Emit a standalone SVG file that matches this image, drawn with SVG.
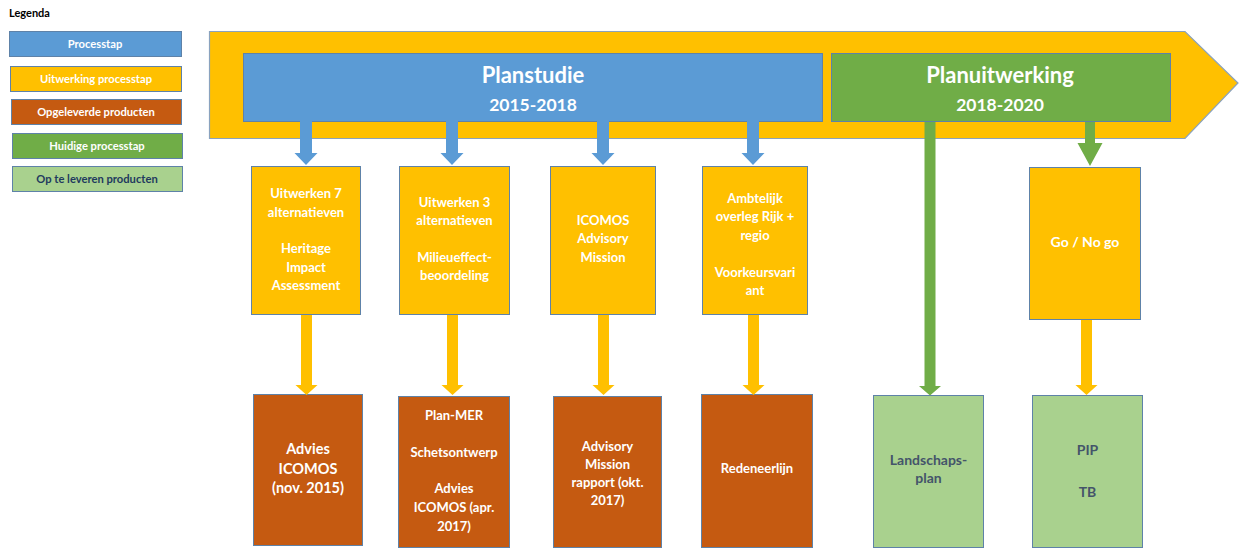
<svg xmlns="http://www.w3.org/2000/svg" width="1239" height="549" viewBox="0 0 1239 549">
<style>
text{font-family:Lato,"Liberation Sans",sans-serif;font-weight:bold;text-anchor:middle}
.b{stroke:#5E82A8;stroke-width:1}
.blue{fill:#5B9BD5}
.yel{fill:#FFC000}
.ora{fill:#C55A11}
.grn{fill:#70AD47}
.lg{fill:#A9D18E}
.w{fill:#FFFFFF}
.d{fill:#44546A}
.t12{font-size:13px}
.t13{font-size:14px}
.leg{font-size:11.2px}
</style>
<rect width="1239" height="549" fill="#FFFFFF"/>
<g id="legend">
<text x="9" y="17" style="text-anchor:start;font-size:11px" fill="#000">Legenda</text>
<rect class="blue b" x="9.5" y="31.5" width="172" height="25"/>
<text class="w leg" x="95" y="48">Processtap</text>
<rect class="yel b" x="10.5" y="66.5" width="171" height="25"/>
<text class="w leg" x="96" y="83">Uitwerking processtap</text>
<rect class="ora b" x="11.5" y="99.5" width="170" height="25"/>
<text class="w leg" x="96" y="116">Opgeleverde producten</text>
<rect class="grn b" x="12.5" y="133.5" width="170" height="25"/>
<text class="w leg" x="97" y="150">Huidige processtap</text>
<rect class="lg b" x="12.5" y="166.5" width="170" height="25"/>
<text class="leg" x="97" y="183" fill="#223A5E">Op te leveren producten</text>
</g>
<g id="banner">
<polygon points="209.5,31.5 1185,31.5 1238,83 1185,138.5 209.5,138.5" fill="#FFC000" stroke="#8AA2BE" stroke-width="1.2"/>
</g>
<g id="planstudie">
<rect class="blue b" x="243.5" y="53.5" width="579" height="68"/>
<text class="w" x="533" y="83" font-size="22">Planstudie</text>
<text class="w" x="533" y="111" font-size="17.5">2015-2018</text>
</g>
<g id="planuitwerking">
<rect class="grn b" x="831.5" y="53.5" width="339" height="68"/>
<text class="w" x="1000" y="83" font-size="22">Planuitwerking</text>
<text class="w" x="1000" y="111" font-size="17.5">2018-2020</text>
</g>
<g id="step1">
<rect class="yel b" x="251.5" y="166.5" width="109" height="148"/>
<text class="w t12" x="306" y="198">Uitwerken 7</text>
<text class="w t12" x="306" y="217">alternatieven</text>
<text class="w t12" x="306" y="253">Heritage</text>
<text class="w t12" x="306" y="272">Impact</text>
<text class="w t12" x="306" y="290">Assessment</text>
</g>
<g id="step2">
<rect class="yel b" x="399.5" y="166.5" width="110" height="148"/>
<text class="w t12" x="454.5" y="207">Uitwerken 3</text>
<text class="w t12" x="454.5" y="225">alternatieven</text>
<text class="w t12" x="454.5" y="262">Milieueffect-</text>
<text class="w t12" x="454.5" y="280">beoordeling</text>
</g>
<g id="step3">
<rect class="yel b" x="550.5" y="166.5" width="105" height="148"/>
<text class="w t12" x="603" y="225">ICOMOS</text>
<text class="w t12" x="603" y="243">Advisory</text>
<text class="w t12" x="603" y="262">Mission</text>
</g>
<g id="step4">
<rect class="yel b" x="702.5" y="166.5" width="105" height="148"/>
<text class="w t12" x="755" y="203">Ambtelijk</text>
<text class="w t12" x="755" y="221">overleg Rijk +</text>
<text class="w t12" x="755" y="240">regio</text>
<text class="w t12" x="755" y="277">Voorkeursvari</text>
<text class="w t12" x="755" y="295">ant</text>
</g>
<g id="step5">
<rect class="yel b" x="1029.5" y="167.5" width="111" height="152"/>
<text class="w t13" x="1085" y="247">Go / No go</text>
</g>
<g id="product1">
<rect class="ora b" x="253.5" y="394.5" width="109" height="151"/>
<text class="w" font-size="14.5" x="308" y="454">Advies</text>
<text class="w" font-size="14.5" x="308" y="474">ICOMOS</text>
<text class="w" font-size="14.5" x="308" y="493">(nov. 2015)</text>
</g>
<g id="product2">
<rect class="ora b" x="398.5" y="396.5" width="111" height="151"/>
<text class="w t12" x="454" y="420">Plan-MER</text>
<text class="w t12" x="454" y="457">Schetsontwerp</text>
<text class="w t12" x="454" y="493">Advies</text>
<text class="w t12" x="454" y="512">ICOMOS (apr.</text>
<text class="w t12" x="454" y="531">2017)</text>
</g>
<g id="product3">
<rect class="ora b" x="553.5" y="396.5" width="108" height="151"/>
<text class="w t12" x="607.5" y="451">Advisory</text>
<text class="w t12" x="607.5" y="469">Mission</text>
<text class="w t12" x="607.5" y="487">rapport (okt.</text>
<text class="w t12" x="607.5" y="505">2017)</text>
</g>
<g id="product4">
<rect class="ora b" x="701.5" y="394.5" width="111" height="153"/>
<text class="w t12" x="757" y="473">Redeneerlijn</text>
</g>
<g id="product5">
<rect class="lg b" x="873.5" y="395.5" width="110" height="152"/>
<text class="d t13" x="928.5" y="465">Landschaps-</text>
<text class="d t13" x="928.5" y="483">plan</text>
</g>
<g id="product6">
<rect class="lg b" x="1032.5" y="395.5" width="110" height="152"/>
<text class="d t13" x="1087.5" y="455">PIP</text>
<text class="d t13" x="1087.5" y="497">TB</text>
</g>
<g id="connectors">
<polygon class="blue" points="300,121 312,121 312,153 317.5,153 306,165 294.5,153 300,153"/>
<polygon class="blue" points="446,121 458,121 458,153 463.5,153 452,165 440.5,153 446,153"/>
<polygon class="blue" points="597,121 609,121 609,153 614.5,153 603,165 591.5,153 597,153"/>
<polygon class="blue" points="747,121 759,121 759,153 764.5,153 753,165 741.5,153 747,153"/>
<polygon class="yel" points="301,315 312,315 312,385 317.5,385 306.5,395 295.5,385 301,385"/>
<polygon class="yel" points="447,315 458,315 458,385 463.5,385 452.5,395 441.5,385 447,385"/>
<polygon class="yel" points="598,315 609,315 609,385 614.5,385 603.5,395 592.5,385 598,385"/>
<polygon class="yel" points="748,315 759,315 759,385 764.5,385 753.5,395 742.5,385 748,385"/>
<polygon class="yel" points="1081,320 1092,320 1092,385 1097.5,385 1086.5,395 1075.5,385 1081,385"/>
<polygon class="grn" points="924.5,122 935.5,122 935.5,386 941,386 930,395.5 919,386 924.5,386"/>
<polygon class="grn" points="1085,122 1095,122 1095,143 1102.5,143 1090,166 1077.5,143 1085,143"/>
</g>
</svg>
